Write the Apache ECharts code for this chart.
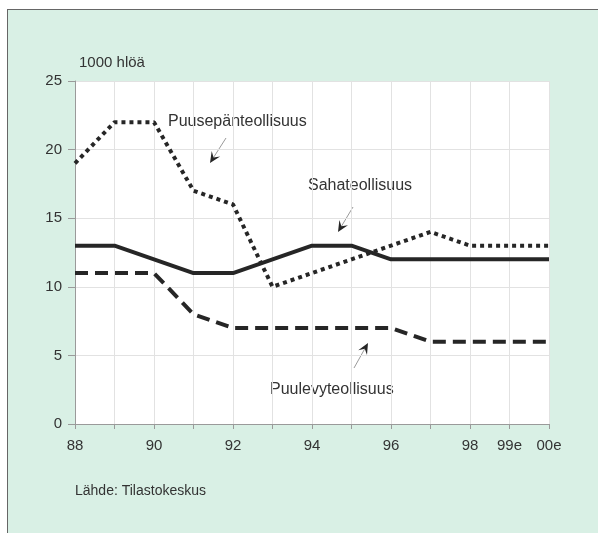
<!DOCTYPE html>
<html>
<head>
<meta charset="utf-8">
<script src="https://cdn.jsdelivr.net/npm/echarts@6/dist/echarts.min.js"></script>
<style>
  html, body { margin: 0; padding: 0; background: #fff; }
  #frame {
    position: absolute; left: 7px; top: 9px; width: 600px; height: 540px;
    background: #d9f0e5; border-left: 1px solid #666; border-top: 1px solid #666;
  }
  #chart { position: absolute; left: 0; top: 0; width: 598px; height: 533px; }
</style>
</head>
<body>
<div id="frame"></div>
<div id="chart"></div>
<script>
// vuodet
const years = ['88', '89', '90', '91', '92', '93', '94', '95', '96', '97', '98', '99e', '00e']
const shownYears = ['88', '90', '92', '94', '96', '98', '99e', '00e']

// 1000 henkilöä
const puusepan = [19, 22, 22, 17, 16, 10, 11, 12, 13, 14, 13, 13, 13]
const saha = [13, 13, 12, 11, 11, 12, 13, 13, 12, 12, 12, 12, 12]
const puulevy = [11, 11, 11, 8, 7, 7, 7, 7, 7, 6, 6, 6, 6]

const yTicks = { min: 0, max: 25, interval: 5 }

const font = 'Liberation Sans, Arial, sans-serif'
const ink = '#262626'

// nuoli: ohut viiva + täytetty kärki
function arrow(x1, y1, x2, y2) {
  const a = Math.atan2(y2 - y1, x2 - x1)
  const len = 11, half = 5
  const bx = x2 - len * Math.cos(a), by = y2 - len * Math.sin(a)
  const nx = -Math.sin(a), ny = Math.cos(a)
  const mx = x2 - len * 0.6 * Math.cos(a), my = y2 - len * 0.6 * Math.sin(a)
  return [
    { type: 'line', shape: { x1, y1, x2: mx, y2: my }, style: { stroke: '#9a9a9a', lineWidth: 1 } },
    { type: 'polygon', shape: { points: [[x2, y2], [bx + nx * half, by + ny * half], [mx, my], [bx - nx * half, by - ny * half]] },
      style: { fill: ink } }
  ]
}

function label(text, x, y) {
  return { type: 'text', x, y, style: { text, font: '16px ' + font, fill: '#333', textVerticalAlign: 'middle' } }
}

const chart = echarts.init(document.getElementById('chart'))

chart.setOption({
  animation: false,
  backgroundColor: 'transparent',
  grid: { left: 75, right: 49, top: 81, bottom: 109, show: true, backgroundColor: '#fff', borderWidth: 0 },
  xAxis: {
    type: 'category',
    data: years,
    boundaryGap: false,
    axisLine: { lineStyle: { color: '#9a9a9a', width: 1 } },
    axisTick: { show: true, length: 5, interval: 0, lineStyle: { color: '#9a9a9a' } },
    axisLabel: {
      interval: 0, margin: 14, fontSize: 15, fontFamily: font, color: '#333',
      formatter: v => shownYears.includes(v) ? v : ''
    },
    splitLine: { show: true, interval: 0, lineStyle: { color: '#e2e2e2', width: 1 } }
  },
  yAxis: {
    type: 'value',
    min: yTicks.min, max: yTicks.max, interval: yTicks.interval,
    name: '1000 hlöä',
    nameLocation: 'end',
    nameGap: 11,
    nameTextStyle: { fontSize: 15, fontFamily: font, color: '#333', align: 'left', padding: [0, 0, 0, 4] },
    axisLine: { show: true, lineStyle: { color: '#9a9a9a', width: 1 } },
    axisTick: { show: true, length: 7, lineStyle: { color: '#9a9a9a' } },
    axisLabel: { margin: 13, fontSize: 15, fontFamily: font, color: '#333' },
    splitLine: { lineStyle: { color: '#e2e2e2', width: 1 } }
  },
  series: [
    {
      name: 'Puusepänteollisuus', type: 'line', data: puusepan, symbol: 'none',
      lineStyle: { color: ink, width: 4, type: [4, 4] }
    },
    {
      name: 'Sahateollisuus', type: 'line', data: saha, symbol: 'none',
      lineStyle: { color: ink, width: 4 }
    },
    {
      name: 'Puulevyteollisuus', type: 'line', data: puulevy, symbol: 'none',
      lineStyle: { color: ink, width: 4, type: [13, 7] }
    }
  ],
  graphic: [
    label('Puusepänteollisuus', 168, 122),
    label('Sahateollisuus', 308, 186),
    label('Puulevyteollisuus', 270, 390),
    ...arrow(226, 138, 210, 163),
    ...arrow(353, 207, 338, 232),
    ...arrow(354, 368, 368, 343),
    { type: 'text', x: 75, y: 491, style: { text: 'Lähde: Tilastokeskus', font: '14px ' + font, fill: '#333', textVerticalAlign: 'middle' } }
  ]
})
</script>
</body>
</html>
